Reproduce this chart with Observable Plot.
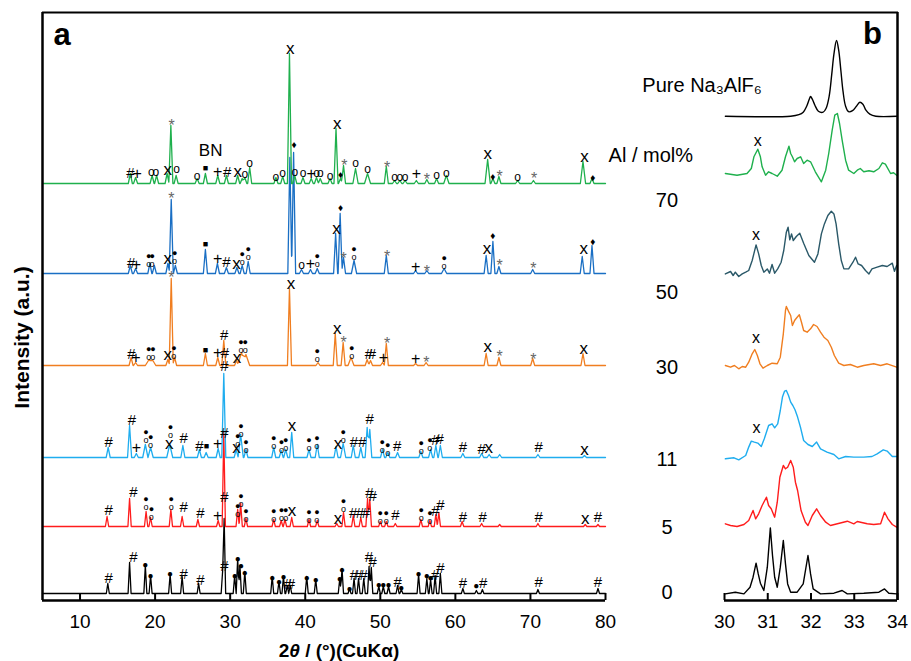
<!DOCTYPE html>
<html>
<head>
<meta charset="utf-8">
<script src="https://cdn.jsdelivr.net/npm/d3@7"></script>
<script src="https://cdn.jsdelivr.net/npm/@observablehq/plot@0.6"></script>
<style>
  html, body { margin: 0; padding: 0; background: #fff; }
  #chart { position: relative; width: 911px; height: 661px; overflow: hidden; }
  #chart svg { position: absolute; left: 0; top: 0; }
</style>
</head>
<body>
<div id="chart"></div>
<script>
// ---------- Panel a: XRD peaks, [2θ (°), intensity above the pattern baseline, optional half-width (°)] ----------
const compositions = ["70", "50", "30", "11", "5", "0"];   // Al / mol%
const xTicksA = [10, 20, 30, 40, 50, 60, 70, 80];
const xTicksB = [30, 31, 32, 33, 34];

const peaks70 = [[16.7,10],[17.4,6],[19.6,8],[20.2,8],[21.6,10],[22.1,58],[22.8,8],[25.6,5],[26.7,10],[28.35,8],[29.5,8],[31.0,8],[31.6,5],[31.95,6],[32.6,16],[36.1,6],[37.0,7],[37.9,130],[38.6,8],[39.7,6],[40.8,5],[41.5,6],[42.0,5],[43.3,5],[44.1,55],[44.7,5],[45.1,18],[46.7,15,0.35],[48.3,10,0.4],[50.8,17],[51.9,3],[52.6,3],[53.3,3],[54.8,3],[56.2,4],[57.5,5],[58.8,8,0.35],[64.3,24,0.35],[65.0,5],[65.8,7],[68.3,3],[70.4,3],[77.0,22,0.35],[78.2,5]];
const peaks50 = [[16.7,8],[17.4,5],[19.3,10],[19.9,8],[21.7,10],[22.15,74],[22.7,8],[26.7,24],[28.3,10],[29.5,6],[30.9,6],[31.6,8],[32.4,12],[37.95,116],[38.45,121],[39.5,4],[40.7,4],[41.6,5],[44.05,40],[44.65,60],[45.1,16],[46.5,13,0.35],[50.8,18],[54.7,3],[56.2,3],[58.5,5,0.35],[64.1,18],[65.0,32],[65.8,7],[70.3,4],[76.9,17],[78.2,28]];
const peaks30 = [[16.8,8],[17.4,3],[19.2,6,0.5],[19.7,5,0.4],[21.7,6],[22.15,87],[22.6,8],[26.7,12],[28.35,8],[29.15,25],[30.85,5],[31.5,13,0.5],[32.1,11,0.5],[37.9,77],[41.7,3],[44.0,32],[45.05,23],[46.1,8,0.4],[48.25,6],[48.7,5],[50.3,3],[50.8,22],[54.7,2],[56.1,3],[64.1,12],[65.8,8],[70.3,7],[77.0,12]];
const peaks11 = [[13.75,10],[16.6,32],[17.5,4],[18.7,13,0.35],[19.4,10,0.35],[21.95,13,0.4],[23.7,12],[25.9,8],[26.8,5],[28.4,9],[29.15,84],[30.8,8],[31.4,23,0.35],[32.1,8],[35.8,10],[36.8,7],[37.4,8],[38.2,25],[40.5,8],[41.6,13],[44.1,11],[45.05,14,0.35],[46.4,12],[47.4,10],[48.25,30],[48.6,28],[50.3,8],[51.0,5],[52.3,5],[55.4,6],[56.7,8],[57.4,12],[58.0,12],[61.0,4],[63.5,4],[64.5,3],[65.9,3],[71.0,3],[77.2,2]];
const peaks5 = [[13.6,10],[16.6,28],[18.8,15],[19.4,9],[22.1,17],[23.6,10],[25.7,7],[28.4,6],[29.15,94],[31.0,17],[31.4,23],[32.1,8],[35.8,7],[36.8,6],[37.3,7],[38.2,9],[40.5,7],[41.6,6],[44.2,3],[45.1,14],[46.4,11],[47.4,9],[48.3,28],[48.6,27],[50.0,5],[50.8,5],[52.0,3],[55.4,7],[56.6,6],[57.4,12],[57.8,14],[60.9,5],[63.5,3],[65.9,2],[71.0,3],[77.3,2],[79.0,2]];
const peaks0 = [[13.7,10],[16.6,31],[18.7,28],[19.4,18],[22.0,19],[23.6,17],[25.8,10],[29.0,23],[29.2,75],[30.6,18],[31.0,35],[31.3,28],[31.95,22],[35.6,17],[36.5,12],[37.1,17],[37.6,8],[38.0,8],[40.2,17],[41.4,14],[44.6,15],[44.9,25],[45.9,5],[46.5,15],[47.1,15],[47.8,15],[48.5,27],[48.8,26],[49.8,7],[50.4,7],[51.1,7],[52.3,8],[52.8,4],[55.1,19],[56.2,15],[56.7,14],[57.3,18],[58.0,20],[61.0,5],[62.8,3],[63.6,4],[71.0,4],[79.0,5]];

// Phase symbols: [2θ (°), height above the pattern baseline, symbol]
const marks70 = [[16.7,10,"#"],[17.6,10,"+"],[19.5,11,"o"],[20.1,11,"o"],[21.7,14,"x"],[22.85,14,"o"],[22.2,63,"*"],[25.6,7,"o"],[26.7,15,"■"],[28.35,12,"+"],[29.6,11,"#"],[31.0,12,"x"],[31.95,9,"o"],[32.6,20,"o"],[36.1,6,"o"],[37.0,10,"o"],[38.0,135,"x"],[38.6,11,"o"],[39.7,10,"o"],[40.8,10,"+"],[41.5,10,"o"],[42.0,10,"o"],[43.3,7,"o"],[44.25,60,"x"],[44.7,9,"♦"],[45.2,23,"*"],[46.7,20,"o"],[48.3,14,"o"],[50.9,21,"*"],[51.9,6,"o"],[52.6,6,"o"],[53.3,6,"o"],[54.8,10,"+"],[56.2,9,"*"],[57.5,8,"o"],[58.8,10,"o"],[64.3,30,"x"],[65.0,7,"♦"],[65.9,12,"*"],[68.3,6,"o"],[70.5,10,"*"],[77.2,27,"x"],[78.3,6,"♦"]];
const marks50 = [[16.8,10,"#"],[17.5,9,"+"],[19.15,13,"●o"],[19.6,13,"●o"],[21.7,15,"x"],[22.15,80,"*"],[22.6,16,"●o"],[26.7,29,"■"],[28.35,15,"+"],[29.5,11,"#"],[30.85,10,"x"],[31.6,15,"●o"],[32.4,20,"●o"],[38.5,129,"♦"],[39.5,8,"o"],[40.7,10,"+"],[41.6,13,"●o"],[44.15,45,"x"],[44.7,66,"♦"],[45.1,20,"*"],[46.5,20,"●o"],[50.9,22,"*"],[54.7,7,"+"],[56.2,7,"*"],[58.5,11,"●o"],[64.2,25,"x"],[65.0,38,"♦"],[65.9,13,"*"],[70.4,10,"*"],[77.1,25,"x"],[78.3,32,"♦"]];
const marks30 = [[16.85,11,"#"],[17.45,8,"+"],[19.15,12,"●o"],[19.7,12,"●o"],[21.7,11,"x"],[22.15,93,"*"],[22.5,13,"●o"],[26.7,15,"■"],[28.35,13,"+"],[29.3,12,"#"],[29.2,30,"#"],[30.9,8,"x"],[31.45,19,"●o"],[32.0,19,"●o"],[38.1,82,"x"],[41.6,10,"●o"],[44.25,37,"x"],[45.1,28,"*"],[46.2,13,"●o"],[48.5,11,"#"],[48.9,11,"#"],[50.4,8,"+"],[50.9,27,"*"],[54.7,7,"+"],[56.15,8,"*"],[64.3,19,"x"],[65.9,14,"*"],[70.4,11,"*"],[77.1,17,"x"]];
const marks11 = [[13.8,15,"#"],[16.9,37,"#"],[17.5,10,"+"],[18.8,21,"●o"],[19.4,16,"●o"],[21.9,14,"x"],[22.05,26,"●o"],[23.8,19,"#"],[25.9,11,"#"],[26.85,11,"■"],[28.35,14,"+"],[29.25,24,"#"],[29.25,91,"#"],[30.85,10,"x"],[31.0,17,"●o"],[31.45,27,"●o"],[32.1,11,"●o"],[35.8,15,"●o"],[36.85,11,"●o"],[37.4,13,"●o"],[38.25,32,"x"],[40.5,13,"●o"],[41.55,15,"●o"],[44.35,14,"x"],[45.05,21,"●o"],[46.5,15,"#"],[47.6,15,"#"],[48.6,38,"#"],[50.25,11,"●o"],[51.0,8,"●o"],[52.25,11,"#"],[55.45,10,"●o"],[56.6,13,"●o"],[57.35,17,"#"],[57.9,18,"#"],[61.0,10,"#"],[63.5,8,"#"],[64.45,10,"x"],[71.1,10,"#"],[77.2,8,"x"]];
const marks5 = [[13.8,16,"#"],[17.1,34,"#"],[18.8,23,"●o"],[19.5,13,"●o"],[22.15,23,"●o"],[23.8,19,"#"],[26.05,13,"#"],[28.35,11,"+"],[29.25,29,"#"],[31.0,16,"●o"],[31.45,26,"●o"],[32.1,11,"●o"],[35.8,11,"●o"],[36.85,12,"●o"],[37.4,12,"●o"],[38.25,16,"x"],[40.5,10,"●o"],[41.55,10,"●o"],[44.35,8,"x"],[45.1,21,"●o"],[46.4,13,"#"],[47.3,13,"#"],[48.1,13,"#"],[48.55,33,"#"],[49.0,30,"#"],[50.0,9,"●o"],[50.8,9,"●o"],[52.0,11,"#"],[55.45,12,"●o"],[56.6,9,"●o"],[57.35,15,"#"],[58.0,21,"#"],[61.0,9,"#"],[63.65,9,"#"],[71.1,9,"#"],[77.3,8,"x"],[79.0,9,"#"]];
const marks0 = [[13.8,15,"#"],[17.1,36,"#"],[18.7,29,"●"],[19.4,18,"●"],[22.0,20,"●"],[23.8,19,"#"],[26.05,13,"#"],[29.25,27,"#"],[30.6,18,"●"],[31.0,35,"●"],[31.45,28,"●"],[31.95,21,"●"],[35.6,16,"●"],[36.5,12,"●"],[37.1,17,"●"],[37.7,9,"#"],[38.1,9,"#"],[40.2,16,"●"],[41.4,14,"●"],[44.6,15,"●"],[44.9,24,"●"],[45.9,5,"●"],[46.5,18,"#"],[47.1,18,"#"],[47.8,18,"#"],[48.5,36,"#"],[49.0,31,"#"],[49.8,9,"●"],[50.4,9,"●"],[51.1,9,"●"],[52.3,11,"#"],[52.8,6,"●"],[55.1,20,"●"],[56.2,18,"●"],[56.7,16,"●"],[57.3,18,"#"],[58.0,25,"#"],[61.0,10,"#"],[62.8,8,"●"],[63.7,10,"#"],[71.1,11,"#"],[79.0,11,"#"]];

// ---------- Panel b: 30–34° close-up, [2θ (°), intensity above the curve baseline] ----------
const bPure = [[30.02,0],[31.53,0],[31.72,1.5],[31.82,4],[31.9,10],[31.96,17],[31.99,19.7],[32.03,17],[32.09,11],[32.17,5],[32.28,4],[32.35,8],[32.42,20],[32.48,42],[32.53,62],[32.59,75.7],[32.64,66],[32.69,46],[32.74,25],[32.8,10],[32.87,4.5],[32.96,5.5],[33.05,10],[33.13,14],[33.2,12],[33.27,6],[33.36,2],[33.5,0],[33.99,0]];
const b70 = [[30.02,0],[30.29,-1.7],[30.52,0],[30.62,5],[30.68,16.7],[30.77,24.3],[30.83,16.7],[30.87,6.7],[30.95,-1.7],[31.02,1.7],[31.10,0],[31.22,-2.7],[31.33,3.3],[31.41,16.7],[31.49,27.3],[31.53,20],[31.57,16.7],[31.62,11.7],[31.68,15],[31.76,16.7],[31.83,10],[31.91,13.3],[31.99,11.7],[32.10,1.7],[32.24,-8.3],[32.34,3.3],[32.41,20],[32.49,43.3],[32.55,58.3],[32.61,60],[32.66,50],[32.72,33.3],[32.80,13.3],[32.87,3.3],[32.99,0],[33.07,3.3],[33.14,5],[33.22,1.7],[33.34,2.7],[33.45,1.7],[33.57,5],[33.65,10.7],[33.72,9.3],[33.84,0],[33.91,0.7],[33.98,-1.7]];
const b50 = [[30.02,-1.7],[30.14,0.7],[30.2,-3.3],[30.25,0],[30.33,-4.3],[30.41,-1.7],[30.49,0],[30.56,1.7],[30.64,11.7],[30.73,27.3],[30.79,18.3],[30.85,6.7],[30.91,0],[30.99,3.3],[31.04,-1],[31.1,7.7],[31.16,-1],[31.23,3.3],[31.31,10],[31.37,21.7],[31.43,40],[31.47,45],[31.51,32.3],[31.55,38.3],[31.59,31.7],[31.66,35.7],[31.74,39],[31.83,29],[31.95,16.7],[32.08,10],[32.16,18.3],[32.24,38.3],[32.31,48.3],[32.39,56.7],[32.47,61],[32.53,58.3],[32.58,48.3],[32.64,28.3],[32.7,11.7],[32.76,3.3],[32.87,3.3],[32.97,10],[33.03,15],[33.09,8.3],[33.17,6.7],[33.26,1.7],[33.34,-1.7],[33.41,3.3],[33.53,5],[33.65,6.7],[33.76,5.7],[33.88,9],[33.93,1],[33.98,6.7]];
const b30 = [[30.02,0],[30.14,-1.7],[30.23,0],[30.33,-3.3],[30.41,-1],[30.49,-1.7],[30.56,3.3],[30.64,11.7],[30.7,16],[30.76,10],[30.82,1.7],[30.89,-2.7],[30.99,0],[31.1,2.3],[31.22,1.7],[31.29,8.3],[31.36,31.7],[31.41,55],[31.43,59],[31.49,53.3],[31.53,50],[31.57,40],[31.62,45],[31.68,48.3],[31.73,50.7],[31.78,43.3],[31.83,35],[31.91,33.3],[31.99,36.7],[32.06,41],[32.14,39],[32.22,33.3],[32.3,28.3],[32.39,25],[32.47,18.3],[32.54,10],[32.64,2.3],[32.76,0],[32.91,1],[33.07,-1.7],[33.22,0],[33.45,1.7],[33.61,0],[33.76,1.7],[33.98,-1.7]];
const b11 = [[30.02,-1],[30.22,0],[30.33,-2],[30.49,2.3],[30.56,10.7],[30.62,16.7],[30.69,15.7],[30.77,14.7],[30.85,11.3],[30.92,19],[31.02,32.3],[31.1,34],[31.16,30],[31.23,34],[31.29,47.3],[31.34,60.7],[31.39,66.7],[31.43,67.3],[31.48,62.3],[31.53,55.7],[31.58,52.3],[31.63,48],[31.69,40.7],[31.76,30],[31.83,17.3],[31.93,13.3],[32.03,11.3],[32.13,15.7],[32.22,9],[32.37,5.7],[32.53,3.3],[32.64,-1],[32.8,1.3],[32.99,0.7],[33.22,0.7],[33.41,1.3],[33.53,4],[33.67,8],[33.76,6.7],[33.88,1.3],[33.98,1.3]];
const b5 = [[30.02,1.7],[30.14,0],[30.29,-1],[30.45,1],[30.56,5],[30.66,15],[30.72,6.7],[30.79,11.7],[30.87,20],[30.97,28.3],[31.02,20],[31.08,16.7],[31.16,8.3],[31.22,23.3],[31.28,48.3],[31.36,60],[31.41,56.7],[31.46,58.3],[31.53,65],[31.59,58.3],[31.64,43.3],[31.69,35],[31.77,15],[31.87,3.3],[31.93,0],[32.03,10],[32.13,16.7],[32.22,10],[32.34,3.3],[32.45,0],[32.61,1.7],[32.84,4.3],[32.99,1.7],[33.07,4],[33.3,1.7],[33.45,1],[33.61,1.7],[33.7,13.3],[33.78,6.7],[33.88,1],[33.98,-1.7]];
const b0 = [[30.02,-0.7],[30.25,1],[30.45,-0.7],[30.59,6],[30.66,16],[30.73,30],[30.78,19.3],[30.83,10],[30.91,2.7],[30.99,26],[31.06,65.3],[31.11,37.7],[31.16,16],[31.22,6],[31.29,26],[31.36,52.7],[31.41,29.3],[31.46,9.3],[31.53,1],[31.68,1],[31.82,9.3],[31.93,37.7],[31.99,19.3],[32.05,4.3],[32.22,-0.7],[32.53,0],[32.72,2.7],[32.84,-0.7],[33.22,0],[33.57,1],[33.7,4.3],[33.8,0],[33.98,-0.7]];
// "x" markers in panel b: [2θ (°), height above the curve baseline]
const bX70 = [[30.77, 33]];
const bX50 = [[30.73, 37]];
const bX30 = [[30.73, 28]];
const bX11 = [[30.74, 30]];

// ---------- drawing ----------
const W = 911, H = 661;
const FONT = "'Liberation Sans', Arial, Helvetica, sans-serif";
const AX = [5, 80];

// stacked patterns, bottom to top: baseline offset in intensity units
const seriesA = [
  {peaks: peaks0,  marks: marks0,  base: 7,   color: "#000000", w: 0.2},
  {peaks: peaks5,  marks: marks5,  base: 74,  color: "#ff1c1c", w: 0.22},
  {peaks: peaks11, marks: marks11, base: 143, color: "#1fadef", w: 0.27},
  {peaks: peaks30, marks: marks30, base: 235, color: "#f07e20", w: 0.27},
  {peaks: peaks50, marks: marks50, base: 327, color: "#1a6fc4", w: 0.27},
  {peaks: peaks70, marks: marks70, base: 417, color: "#1fb04d", w: 0.27}
];

// turn a peak list into a polyline: sharp peaks on a flat baseline
function profile(peaks, base, w0) {
  const xs = new Set(AX);
  for (const [x, , w = w0] of peaks) { xs.add(x - w); xs.add(x); xs.add(x + w); }
  return Array.from(xs).filter(x => x >= AX[0] && x <= AX[1]).sort((a, b) => a - b).map(x => {
    let y = 0;
    for (const [px, h, w = w0] of peaks) y = Math.max(y, h * (1 - Math.abs(x - px) / w));
    return {x, y: base + y};
  });
}

const symbolStyle = {
  "#":  {text: "#",      fontSize: 15},
  "+":  {text: "+",      fontSize: 16},
  "x":  {text: "x",      fontSize: 17},
  "*":  {text: "*",      fontSize: 16, fill: "#666", dy: 5},
  "o":  {text: "o",      fontSize: 12},
  "●":  {text: "●",      fontSize: 10},
  "●o": {text: "●\no",   fontSize: 9, lineHeight: 0.85},
  "■":  {text: "■",      fontSize: 9},
  "♦":  {text: "♦",      fontSize: 10}
};

const allMarks = seriesA.flatMap(s => s.marks.map(([x, h, sym]) => ({x, y: s.base + h, sym})));
const symbolMarks = Object.entries(symbolStyle).map(([sym, st]) =>
  Plot.text(allMarks.filter(d => d.sym === sym), {
    x: "x", y: "y", text: () => st.text,
    fontSize: st.fontSize, fill: st.fill || "#000", dy: st.dy || 0,
    lineHeight: st.lineHeight || 1, fontFamily: FONT
  })
);

// right edge of the whole frame expressed on panel a's x scale
const xScaleA = Plot.scale({x: {domain: AX, range: [42, 605]}});
const xEdge = xScaleA.invert(898);

// axis title with an italic theta
const ctx = document.createElement("canvas").getContext("2d");
const titleParts = [["2", "normal"], ["θ", "italic"], [" / (°)(CuKα)", "normal"]];
const titleSize = 19;
const widths = titleParts.map(([t, st]) => { ctx.font = `${st} bold ${titleSize}px ${FONT}`; return ctx.measureText(t).width; });
const totalW = d3.sum(widths);
let acc = -totalW / 2;
const titleMarks = titleParts.map(([t, st], i) => {
  const m = Plot.text([t], {x: 44.5, y: -50, text: d => d, textAnchor: "start", dx: acc,
    fontWeight: "bold", fontStyle: st, fontSize: titleSize, fontFamily: FONT});
  acc += widths[i];
  return m;
});

const plotA = Plot.plot({
  width: W, height: H,
  marginLeft: 42, marginRight: 306, marginTop: 12, marginBottom: 61,
  style: {fontFamily: FONT, fontSize: "19px", background: "transparent", color: "#000", overflow: "visible"},
  x: {domain: AX},
  y: {domain: [0, 588], axis: null},
  marks: [
    ...seriesA.map(s => Plot.line(profile(s.peaks, s.base, s.w), {x: "x", y: "y", stroke: s.color, strokeWidth: 1.3})),
    ...symbolMarks,
    Plot.text(["BN"], {x: 27.4, y: 417 + 33, fontSize: 17, fontFamily: FONT}),
    Plot.ruleX([AX[0]], {y1: 0, y2: 588, strokeWidth: 2.5}),
    Plot.ruleY([588], {x1: AX[0], x2: xEdge, strokeWidth: 2}),
    Plot.ruleY([0], {x1: AX[0], x2: AX[1], strokeWidth: 2.5}),
    Plot.ruleX(xTicksA, {y1: 0, y2: 7, strokeWidth: 2}),
    Plot.axisX({ticks: xTicksA, tickSize: 0, tickPadding: 14, label: null, fontSize: 19, fontFamily: FONT, tickFormat: d3.format("d")}),
    ...titleMarks,
    Plot.text(["Intensity (a.u.)"], {x: 2.3, y: 263, rotate: -90, fontWeight: "bold", fontSize: 21, fontFamily: FONT}),
    Plot.text(["a"], {x: 7.6, y: 565, fontWeight: "bold", fontSize: 31, fontFamily: FONT})
  ]
});

// panel b curves, bottom to top
const seriesB = [
  {data: b0,    base: 7.3,   color: "#000000", xs: []},
  {data: b5,    base: 75,    color: "#ff1c1c", xs: []},
  {data: b11,   base: 142.7, color: "#1fadef", xs: bX11},
  {data: b30,   base: 235,   color: "#f07e20", xs: bX30},
  {data: b50,   base: 328.3, color: "#2a5868", xs: bX50},
  {data: b70,   base: 427,   color: "#1fb04d", xs: bX70},
  {data: bPure, base: 484.3, color: "#000000", xs: [], curve: "catmull-rom"}
];
const compLabelY = [400, 308, 233, 141, 73, 8];

const plotB = Plot.plot({
  width: W, height: H,
  marginLeft: 724, marginRight: 14, marginTop: 12, marginBottom: 61,
  style: {fontFamily: FONT, fontSize: "19px", background: "transparent", color: "#000", overflow: "visible"},
  x: {domain: [30, 34]},
  y: {domain: [0, 588], axis: null},
  marks: [
    ...seriesB.map(s => Plot.line(s.data, {x: d => d[0], y: d => s.base + d[1], stroke: s.color, strokeWidth: 1.4, curve: s.curve || "linear"})),
    ...seriesB.filter(s => s.xs.length).map(s => Plot.text(s.xs, {x: d => d[0], y: d => s.base + d[1], text: () => "x", fontSize: 16, fontFamily: FONT})),
    Plot.text(["Pure Na₃AlF₆"], {x: 28.1, y: 515, textAnchor: "start", fontSize: 20, fontFamily: FONT}),
    Plot.text(["Al / mol%"], {x: 27.32, y: 445, textAnchor: "start", fontSize: 20, fontFamily: FONT}),
    Plot.text(compositions, {x: 28.67, y: (d, i) => compLabelY[i], fontSize: 20, fontFamily: FONT}),
    Plot.ruleX([34], {y1: 0, y2: 588, strokeWidth: 2.5}),
    Plot.ruleY([0], {x1: 30, x2: 34, strokeWidth: 2.5}),
    Plot.ruleX(xTicksB, {y1: 0, y2: 7, strokeWidth: 2}),
    Plot.axisX({ticks: xTicksB, tickSize: 0, tickPadding: 14, label: null, fontSize: 19, fontFamily: FONT, tickFormat: d3.format("d")}),
    Plot.text(["b"], {x: 33.42, y: 566, fontWeight: "bold", fontSize: 31, fontFamily: FONT})
  ]
});

const chart = document.getElementById("chart");
chart.append(plotA, plotB);
</script>
</body>
</html>
